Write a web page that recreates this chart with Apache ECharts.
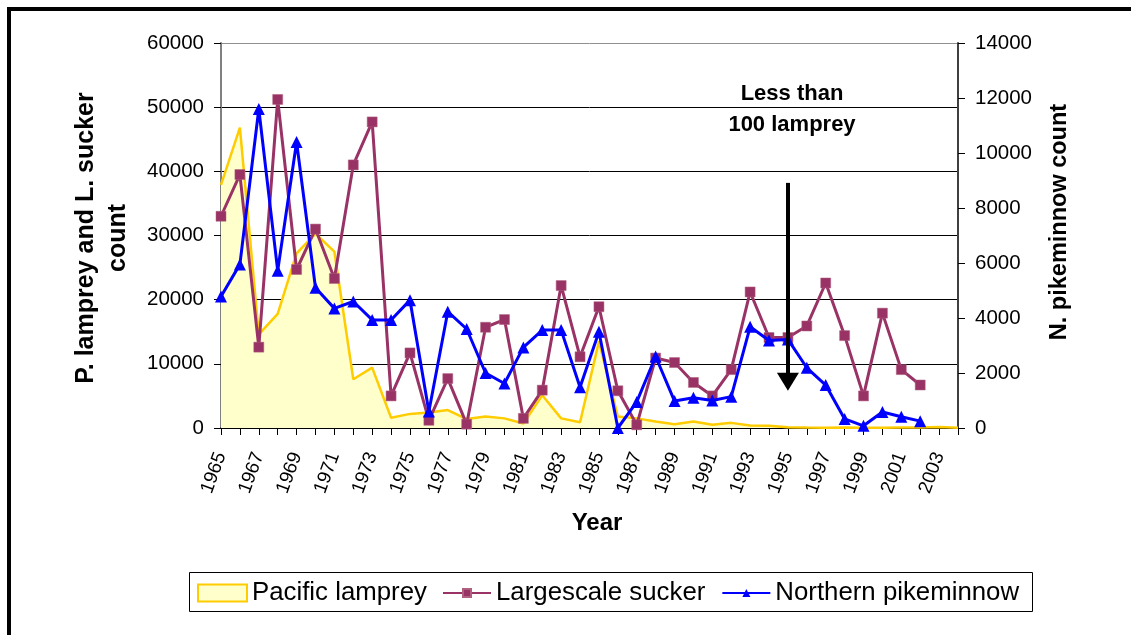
<!DOCTYPE html>
<html>
<head>
<meta charset="utf-8">
<script src="https://cdn.jsdelivr.net/npm/echarts@6/dist/echarts.min.js"></script>
<style>
html,body{margin:0;padding:0;background:#fff;}
#chart{width:1131px;height:635px;}
</style>
</head>
<body>
<div id="chart"></div>
<script>
const years = ['1965','1966','1967','1968','1969','1970','1971','1972','1973','1974',
  '1975','1976','1977','1978','1979','1980','1981','1982','1983','1984',
  '1985','1986','1987','1988','1989','1990','1991','1992','1993','1994',
  '1995','1996','1997','1998','1999','2000','2001','2002','2003','2004'];

const lamprey = [37900,46800,14600,17800,27200,30300,27500,7600,9400,1600,
  2200,2400,2800,1400,1800,1500,700,5100,1500,900,
  13500,1800,1500,1000,600,1000,500,800,400,350,
  100,60,50,60,50,50,80,60,150,50];

const sucker = [33000,39500,12600,51200,24700,31000,23300,41000,47700,5000,
  11700,1200,7700,600,15700,16900,1500,5900,22200,11100,
  18900,5800,500,10900,10200,7100,5000,9100,21200,14100,
  14100,15900,22600,14400,5000,17900,9100,6700,null,null];

const pikeminnow = [4780,5950,11600,5720,10400,5100,4350,4600,3930,3930,
  4650,600,4230,3600,2000,1620,2930,3560,3560,1480,
  3500,0,950,2600,980,1100,1000,1140,3680,3180,
  3220,2190,1560,330,80,580,410,250,null,null];

const leftTicks = [0,10000,20000,30000,40000,50000,60000];
const rightTicks = [0,2000,4000,6000,8000,10000,12000,14000];

const FONT = 'Arial, "Liberation Sans", sans-serif';
const chart = echarts.init(document.getElementById('chart'));
const legendText = { fontFamily: FONT, fontSize: 25.8, color: '#000' };

chart.setOption({
  animation: false,
  backgroundColor: '#fff',
  textStyle: { fontFamily: FONT, color: '#000' },
  grid: { left: 221, right: 173, top: 43, bottom: 207, show: false },
  legend: [
    {
      left: 197, top: 580,
      padding: 0,
      itemWidth: 49,
      itemHeight: 17,
      itemGap: 14,
      textStyle: legendText,
      data: [
        { name: 'Pacific lamprey', icon: 'rect',
          itemStyle: { color: '#FFFFCC', borderColor: '#FFCC00', borderWidth: 2 } }
      ]
    },
    {
      left: 442, top: 580,
      padding: 0,
      itemWidth: 48,
      itemHeight: 10,
      itemGap: 16,
      textStyle: legendText,
      data: [ { name: 'Largescale sucker' }, { name: 'Northern pikeminnow' } ]
    }
  ],
  xAxis: {
    type: 'category',
    data: years,
    boundaryGap: false,
    axisLine: { lineStyle: { color: '#000', width: 1.5 } },
    axisTick: { show: true, interval: 0, length: 7, lineStyle: { color: '#000' } },
    axisLabel: { interval: 1, rotate: 70, fontSize: 19, color: '#000', fontFamily: FONT, margin: 25 },
    splitLine: { show: false }
  },
  yAxis: [
    {
      type: 'value', min: leftTicks[0], max: leftTicks[leftTicks.length-1], interval: 10000,
      position: 'left',
      axisLine: { show: true, lineStyle: { color: '#808080', width: 2 } },
      axisTick: { show: true, length: 7, lineStyle: { color: '#000' } },
      axisLabel: { fontSize: 20.5, color: '#000', fontFamily: FONT, margin: 17, formatter: v => String(v) },
      splitLine: { show: true, lineStyle: { color: ['#000','#000','#000','#000','#000','#000','#909090'], width: 1 } }
    },
    {
      type: 'value', min: rightTicks[0], max: rightTicks[rightTicks.length-1], interval: 2000,
      position: 'right',
      axisLine: { show: true, lineStyle: { color: '#404040', width: 2 } },
      axisTick: { show: true, length: 7, lineStyle: { color: '#000' } },
      axisLabel: { fontSize: 20.5, color: '#000', fontFamily: FONT, margin: 17, formatter: v => String(v) },
      splitLine: { show: false }
    }
  ],
  series: [
    {
      name: 'Pacific lamprey', type: 'line', yAxisIndex: 0, data: lamprey,
      showSymbol: false, symbol: 'none',
      lineStyle: { color: '#FFCC00', width: 2.5 },
      itemStyle: { color: '#FFCC00' },
      areaStyle: { color: '#FFFFCC', opacity: 1 },
      z: 1
    },
    {
      name: 'Largescale sucker', type: 'line', yAxisIndex: 0, data: sucker,
      symbol: 'rect', symbolSize: 10,
      lineStyle: { color: '#993366', width: 3 },
      itemStyle: { color: '#993366', borderColor: '#B0607F', borderWidth: 0.5 },
      z: 3,
      markLine: {
        silent: true,
        symbol: ['none', 'triangle'],
        symbolSize: [22, 18],
        label: { show: false },
        lineStyle: { color: '#000', width: 4, type: 'solid' },
        emphasis: { disabled: true },
        data: [[ { coord: ['1995', 38200] }, { coord: ['1995', 7200] } ]]
      }
    },
    {
      name: 'Northern pikeminnow', type: 'line', yAxisIndex: 1, data: pikeminnow,
      symbol: 'triangle', symbolSize: 12,
      lineStyle: { color: '#0000FF', width: 3 },
      itemStyle: { color: '#0000FF' },
      z: 4
    }
  ],
  graphic: [
    { type: 'rect', shape: { x: 9, y: 9, width: 1300, height: 1000 },
      style: { fill: 'none', stroke: '#000', lineWidth: 4 }, silent: true, z: 100 },
    { type: 'rect', shape: { x: 189.5, y: 572.5, width: 843, height: 39 },
      style: { fill: 'none', stroke: '#000', lineWidth: 1 }, silent: true, z: 100 },
    { type: 'text', x: 102, y: 238, rotation: Math.PI/2,
      style: { text: 'P. lamprey and L. sucker\ncount', fontFamily: FONT, fontSize: 25, fontWeight: 'bold',
        fill: '#000', align: 'center', verticalAlign: 'middle', lineHeight: 32 } },
    { type: 'text', x: 1060, y: 222, rotation: Math.PI/2,
      style: { text: 'N. pikeminnow count', fontFamily: FONT, fontSize: 23.5, fontWeight: 'bold',
        fill: '#000', align: 'center', verticalAlign: 'middle' } },
    { type: 'text', x: 597, y: 523,
      style: { text: 'Year', fontFamily: FONT, fontSize: 24, fontWeight: 'bold',
        fill: '#000', align: 'center', verticalAlign: 'middle' } },
    { type: 'text', x: 792, y: 109,
      style: { text: 'Less than\n100 lamprey', fontFamily: FONT, fontSize: 22, fontWeight: 'bold',
        fill: '#000', align: 'center', verticalAlign: 'middle', lineHeight: 31 } }
  ]
});
</script>
</body>
</html>
